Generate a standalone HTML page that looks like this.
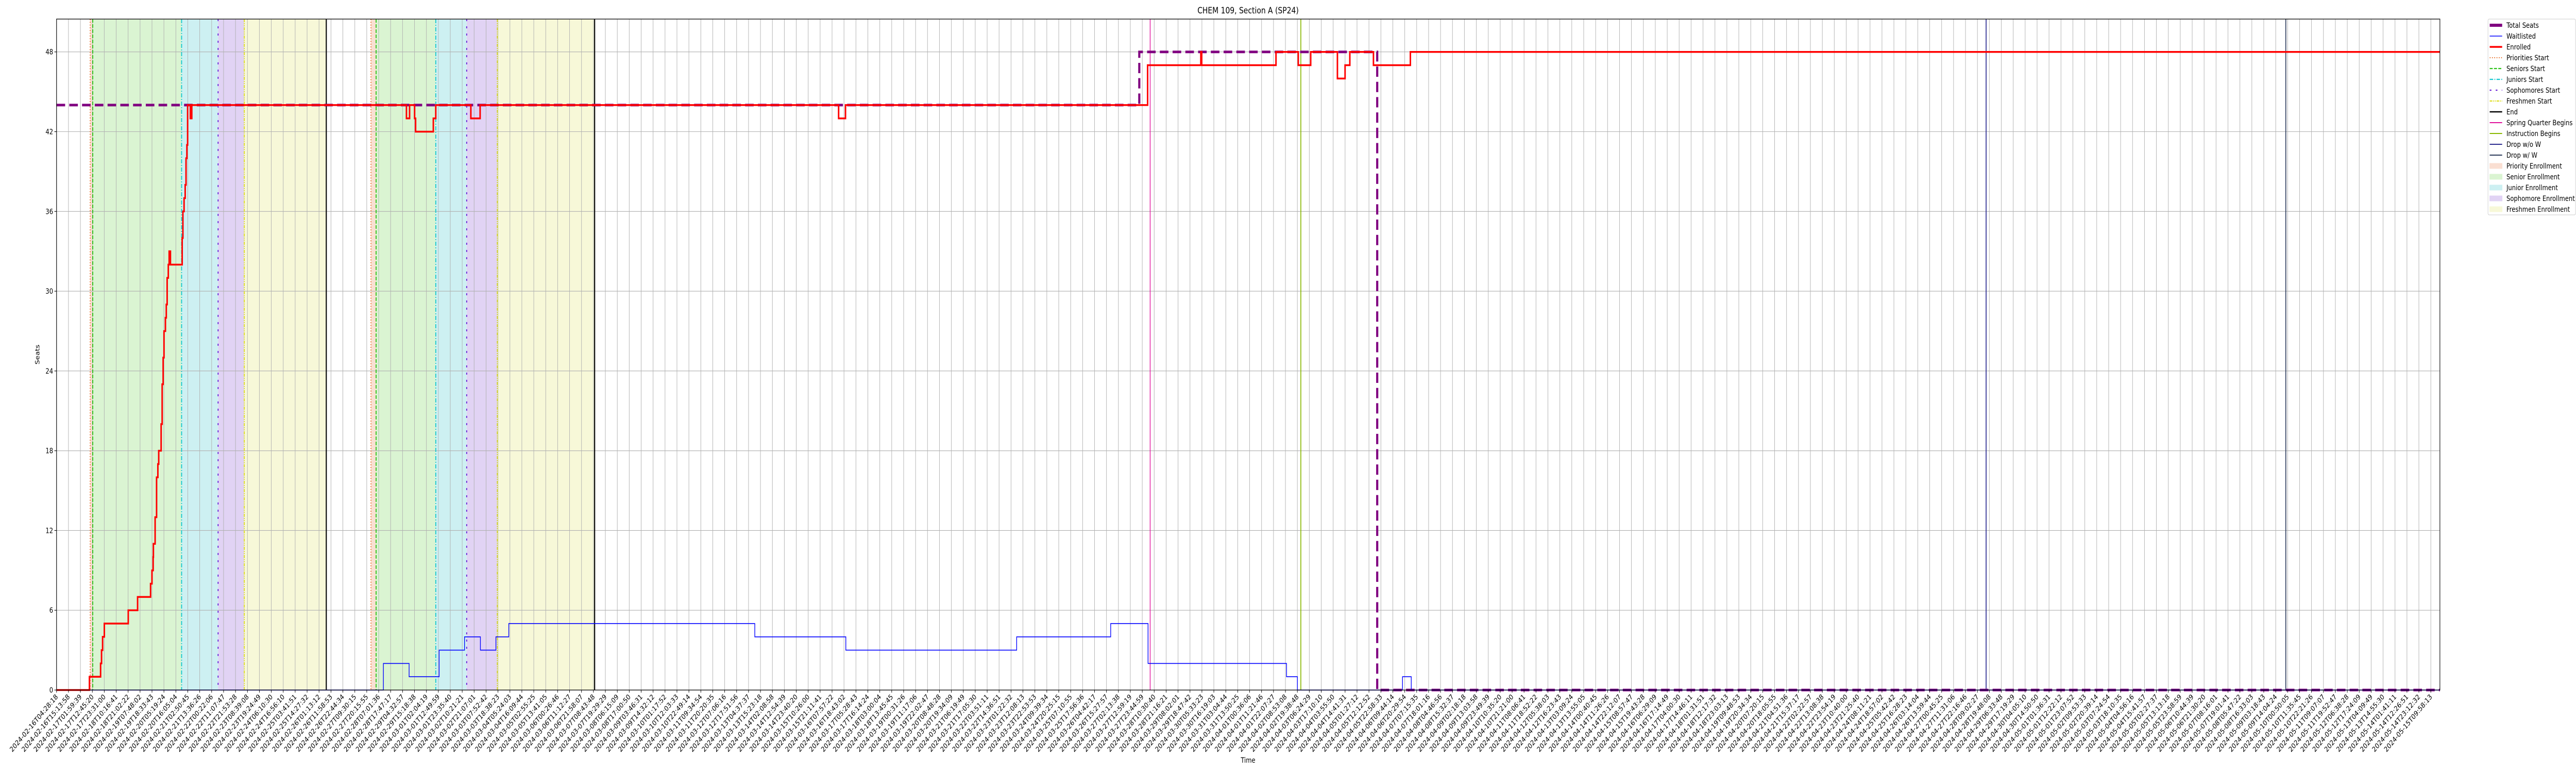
<!DOCTYPE html>
<html><head><meta charset="utf-8"><style>
html,body{margin:0;padding:0;background:#fff;width:100%;height:100%;overflow:hidden;}
svg{display:block;font-family:"DejaVu Sans","Liberation Sans",sans-serif;width:100vw;height:100vh;overflow:hidden;}
</style></head><body>
<svg id="chart" viewBox="0 0 6000 1500" preserveAspectRatio="none" xmlns="http://www.w3.org/2000/svg">
<text x="2907" y="26" font-size="16.7" text-anchor="middle">CHEM 109, Section A (SP24)</text>
<text x="0" y="0" font-size="13.9" text-anchor="middle" transform="translate(92,688) rotate(-90)">Seats</text>
<text x="2907" y="1480" font-size="13.9" text-anchor="middle">Time</text>
<g id="spans"></g><g id="grid"></g><g id="events"></g><g id="series"></g><g id="axes"></g><g id="legend"></g>
</svg>
<script>
// Data (x in hours since 2024-02-16T04:28:18)
const enrolledX = [0,29.66,39.73,40.58,41.55,43.10,64.67,73.11,84.81,86.08,87.13,87.36,88.91,90.23,91.39,92.16,94.33,95.26,96.15,96.93,98.21,98.98,99.75,100.80,101.57,102.73,113.31,113.97,115.01,116.02,116.79,117.57,118.23,120.67,121.98,315.60,318.43,322.96,323.85,339.84,342.05,373.69,382.05,705.40,711.60,984.1,1032.1,1032.9,1099.9,1120.0,1131.2,1155.3,1162.2,1166.5,1187.8,1221.1];
const enrolledY = [0,1,2,3,4,5,6,7,8,9,10,11,13,16,17,18,20,23,25,27,28,29,31,32,33,32,34,36,37,38,40,41,44,43,44,43,44,43,42,43,44,43,44,43,44,47,48,47,48,47,48,46,47,48,47,48];
const waitX = [0,294.8,318.0,345.1,368.0,382.3,396.3,407.9,629.8,711.9,866.0,950.8,984.5,1109.4,1119.2,1214.0,1221.9];
const waitY = [0,2,1,3,4,3,4,5,4,3,4,5,2,1,0,1,0];
const seatsX = [0,976.6,1191.2];
const seatsY = [44,48,0];
const spanStarts = [30.32,32.64,112.80,145.72,169.34, 283.58,288.22,342.05,369.93,397.54];
const spanEnds   = [32.64,112.80,145.72,169.34,243.30, 288.22,342.05,369.93,397.54,485.33];
const spanKinds  = ['priority','senior','junior','sophomore','freshmen','priority','senior','junior','sophomore','freshmen'];
const eventX = [30.32,32.64,112.80,145.72,169.34,243.30,283.58,288.22,342.05,369.93,397.54,485.33,986.4,1122.3,1740.4,2010.7];
const eventKinds = ['prio','sen','jun','soph','fresh','end','prio','sen','jun','soph','fresh','end','spring','instr','dropnow','dropw'];
const yTicks = [0,6,12,18,24,30,36,42,48];
const tickCount = 200;
const tickStepHours = 10.7613;
const startTime = Date.UTC(2024,1,16,4,28,18);
const xMax = 2149.7;
const yMax = 50.47;

const L=131.7,R=5683,T=37,B=1339;
const X=h=>L+(h/xMax)*(R-L);
const Y=v=>B-(v/yMax)*(B-T);
const NS='http://www.w3.org/2000/svg';
function mk(tag,attrs,parent){const e=document.createElementNS(NS,tag);for(const k in attrs)e.setAttribute(k,attrs[k]);parent.appendChild(e);return e;}
const g=id=>document.getElementById(id);

const spanFill={priority:'#fadfd2',senior:'#daf4d2',junior:'#cdf0f2',sophomore:'#e1d3f4',freshmen:'#f7f8d8'};
spanStarts.forEach((s,i)=>{
  const r=mk('rect',{x:X(s),y:T,width:X(spanEnds[i])-X(s),height:B-T,fill:spanFill[spanKinds[i]]},g('spans'));
  
  
});

const pad=n=>String(n).padStart(2,'0');
for(let i=0;i<tickCount;i++){
  const h=i*tickStepHours, x=X(h);
  const gl=mk('line',{x1:x,x2:x,y1:T,y2:B,stroke:'#b0b0b0','stroke-width':1.1},g('grid'));
  
  
  mk('line',{x1:x,x2:x,y1:B,y2:B+5,stroke:'#000','stroke-width':1.1},g('axes'));
  const d=new Date(startTime+h*3600000);
  const lab=d.getUTCFullYear()+'-'+pad(d.getUTCMonth()+1)+'-'+pad(d.getUTCDate())+'T'+pad(d.getUTCHours())+':'+pad(d.getUTCMinutes())+':'+pad(d.getUTCSeconds());
  const t=mk('text',{x:0,y:0,'font-size':13.9,'text-anchor':'end',transform:`translate(${x+4},${B+14}) rotate(-45)`},g('axes'));
  t.textContent=lab;
  
  
}
yTicks.forEach(v=>{
  const y=Y(v);
  const gl=mk('line',{x1:L,x2:R,y1:y,y2:y,stroke:'#b0b0b0','stroke-width':1.1},g('grid'));
  
  
  mk('line',{x1:L-5,x2:L,y1:y,y2:y,stroke:'#000','stroke-width':1.1},g('axes'));
  const t=mk('text',{x:L-8,y:y+5,'font-size':13.9,'text-anchor':'end'},g('axes'));
  t.textContent=v;
  
  
});

const evStyle={
  prio:{stroke:'#e8702a',w:2,dash:'2 3.3'},
  sen:{stroke:'#2ec41a',w:2.2,dash:'7 3'},
  jun:{stroke:'#17c8d0',w:2.2,dash:'8 3 2 3'},
  soph:{stroke:'#6a1fd8',w:2.2,dash:'4 10'},
  fresh:{stroke:'#dede22',w:2.2,dash:'6 2 2 2 2 2'},
  end:{stroke:'#000',w:2.5,dash:''},
  spring:{stroke:'#e0109a',w:1.6,dash:''},
  instr:{stroke:'#88b800',w:2,dash:''},
  dropnow:{stroke:'#2a2a8f',w:2,dash:''},
  dropw:{stroke:'#2b3a5a',w:2,dash:''}
};
eventX.forEach((h,i)=>{
  const s=evStyle[eventKinds[i]];
  const ln=mk('line',{x1:X(h),x2:X(h),y1:T,y2:B,stroke:s.stroke,'stroke-width':s.w,'stroke-dasharray':s.dash},g('events'));
  
  
});

function stepPath(xs,ys){
  let d=`M${X(xs[0])},${Y(ys[0])}`;
  for(let i=1;i<xs.length;i++){d+=`H${X(xs[i])}V${Y(ys[i])}`;}
  d+=`H${X(xMax)}`;return d;
}
const seats=mk('path',{d:stepPath(seatsX,seatsY),fill:'none',stroke:'#800080','stroke-width':5,'stroke-dasharray':'20 9.7'},g('series'));


const wait=mk('path',{d:stepPath(waitX,waitY),fill:'none',stroke:'#0000ff','stroke-width':1.6},g('series'));


const enr=mk('path',{d:stepPath(enrolledX,enrolledY),fill:'none',stroke:'#ff0000','stroke-width':3.5},g('series'));



const frame=mk('rect',{x:L,y:T,width:R-L,height:B-T,fill:'none',stroke:'#000','stroke-width':1.3},g('axes'));



const lg=g('legend');
const box=mk('rect',{x:5795,y:37,width:204,height:380,rx:3,fill:'#fff',stroke:'#cccccc','stroke-width':1,'fill-opacity':0.85},lg);


const entries=[
 ['Total Seats','line','#800080',6,''],['Waitlisted','line','#0000ff',1.6,''],['Enrolled','line','#ff0000',3.5,''],
 ['Priorities Start','line','#e8702a',2,'2 3.3'],['Seniors Start','line','#2ec41a',2.2,'7 3'],['Juniors Start','line','#17c8d0',2.2,'8 3 2 3'],
 ['Sophomores Start','line','#6a1fd8',2.2,'4 10'],['Freshmen Start','line','#dede22',2.2,'6 2 2 2 2 2'],['End','line','#000',2.5,''],
 ['Spring Quarter Begins','line','#e0109a',2,''],['Instruction Begins','line','#88b800',2,''],['Drop w/o W','line','#2a2a8f',2,''],['Drop w/ W','line','#2b3a5a',2,''],
 ['Priority Enrollment','patch','#fadfd2'],['Senior Enrollment','patch','#daf4d2'],['Junior Enrollment','patch','#cdf0f2'],['Sophomore Enrollment','patch','#e1d3f4'],['Freshmen Enrollment','patch','#f7f8d8']
];
entries.forEach((e,i)=>{
  const cy=49+i*21;
  const grp=mk('g',{},lg);
  
  
  if(e[1]==='line'){
    mk('line',{x1:5799,x2:5828,y1:cy,y2:cy,stroke:e[2],'stroke-width':e[3],'stroke-dasharray':e[4]},grp);
  } else {
    mk('rect',{x:5799,y:cy-5,width:29,height:10,fill:e[2],stroke:e[2]},grp);
  }
  const t=mk('text',{x:5838,y:cy+5,'font-size':13.9},grp);
  t.textContent=e[0];
});
</script>
</body></html>
